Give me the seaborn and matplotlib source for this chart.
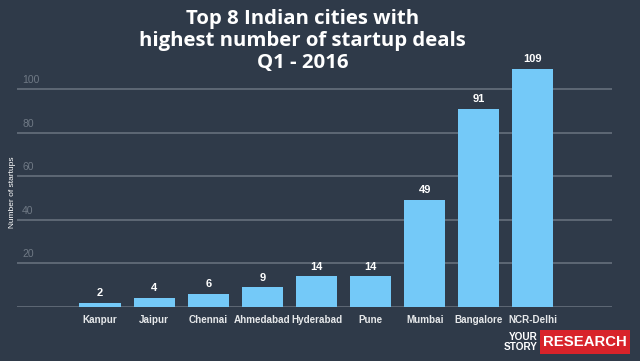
import pandas as pd
import seaborn as sns
import matplotlib.pyplot as plt
import matplotlib.transforms as mtransforms
from matplotlib import font_manager
from matplotlib.patches import Rectangle

cities = ['Kanpur', 'Jaipur', 'Chennai', 'Ahmedabad', 'Hyderabad', 'Pune',
          'Mumbai', 'Bangalore', 'NCR-Delhi']
deals = [2, 4, 6, 9, 14, 14, 49, 91, 109]
yticks = [20, 40, 60, 80, 100]

bg = '#2f3a49'
bar_color = '#74c9f8'
grid_color = '#66707c'

df = pd.DataFrame({'city': cities, 'deals': deals})

sns.set_style('white')
plt.rcParams['font.family'] = ['Liberation Sans', 'DejaVu Sans']

# condensed face for the axis labels and logo, if one is installed
cond = any(f.name == 'DejaVu Sans' and f.stretch == 'condensed' and f.weight == 'bold'
           for f in font_manager.fontManager.ttflist)
if cond:
    nfam, nstretch = ['DejaVu Sans'], 'condensed'
else:
    nfam, nstretch = ['Liberation Sans', 'DejaVu Sans'], 'normal'

fig = plt.figure(figsize=(6.4, 3.61), dpi=100, facecolor=bg)
ax = fig.add_axes([0.027, 0.1496, 0.929, 0.725])
ax.set_facecolor(bg)

# gridlines under the bars
for v in [0] + yticks:
    ax.axhline(v, color=grid_color, lw=1.2, zorder=0)

sns.barplot(data=df, x='city', y='deals', color=bar_color, width=0.76,
            saturation=1, linewidth=0, ax=ax, zorder=2)

ax.set_xlim(-1.53, 9.46)
ax.set_ylim(0, 120)
for s in ax.spines.values():
    s.set_visible(False)
ax.set_yticks([])
ax.set_xlabel('')
ax.set_ylabel('')
ax.tick_params(axis='x', length=0, pad=6, labelcolor='#e6e8ea')
for lab in ax.get_xticklabels():
    lab.set_fontweight('bold')
    lab.set_family(nfam)
    lab.set_fontstretch(nstretch)
    lab.set_fontsize(7.6 if cond else 7.1)

# y tick labels sit above each gridline at the left
trans = mtransforms.blended_transform_factory(ax.transAxes, ax.transData)
for v in yticks:
    ax.text(0.008, v + 1.8, str(v), transform=trans, color='#6f7985',
            fontsize=7.5, ha='left', va='bottom')

# value labels
for i, v in enumerate(deals):
    ax.text(i, v + 2.2, str(v), color='white', fontsize=8, fontweight='bold',
            ha='center', va='bottom')

fig.text(0.019, 0.468, 'Number of startups', rotation=90, color='white',
         fontsize=6, ha='center', va='center')

fig.text(0.473, 0.975, 'Top 8 Indian cities with\nhighest number of startup deals\nQ1 - 2016',
         color='white', fontsize=14.7, fontweight='bold', ha='center', va='top',
         linespacing=1.12, family=['Open Sans', 'DejaVu Sans'])

# YourStory Research logo
fig.patches.append(Rectangle((540 / 640, 7 / 361), 90 / 640, 24 / 361,
                             transform=fig.transFigure, fc='#d8232a', ec='none'))
res = fig.text(585 / 640, 19 / 361, 'RESEARCH', color='white', fontsize=14,
               fontweight='bold', ha='center', va='center',
               family=nfam, fontstretch=nstretch)
fig.text(538 / 640, 19 / 361, 'YOUR\nSTORY', color='white', fontsize=7.2,
         fontweight='bold', ha='right', va='center', linespacing=0.9,
         family=nfam, fontstretch=nstretch)

# shrink RESEARCH to fit its box
renderer = fig.canvas.get_renderer()
ext = res.get_window_extent(renderer)
res.set_fontsize(res.get_fontsize() * 84 / ext.width)

fig.savefig('out.png', dpi=100, facecolor=bg)
